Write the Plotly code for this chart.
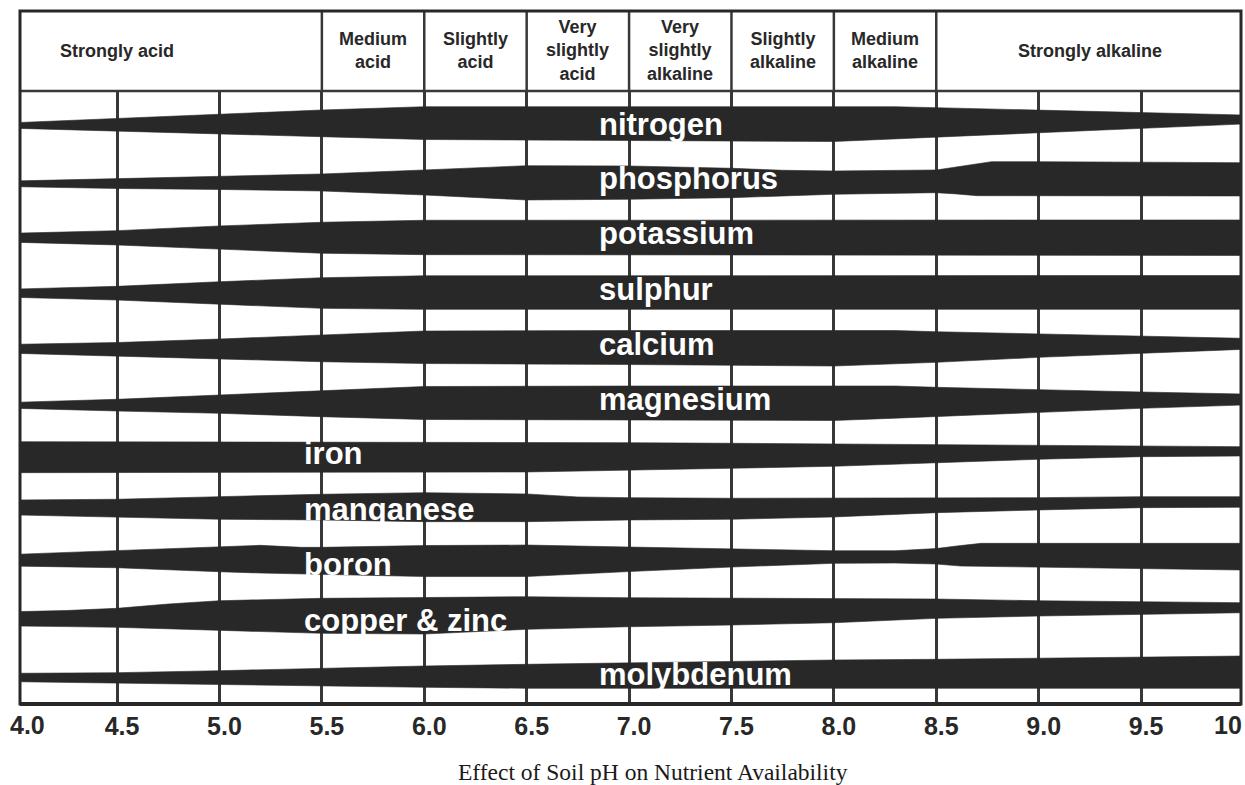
import plotly.graph_objects as go

# ---------------- data ----------------
tick_vals = [4.5, 5.0, 5.5, 6.0, 6.5, 7.0, 7.5, 8.0, 8.5, 9.0, 9.5]
tick_text = ["4.5", "5.0", "5.5", "6.0", "6.5", "7.0", "7.5", "8.0", "8.5", "9.0", "9.5"]
end_tick_text = ["4.0", "10"]

zone_names = ["Strongly acid", "Medium<br>acid", "Slightly<br>acid", "Very<br>slightly<br>acid",
              "Very<br>slightly<br>alkaline", "Slightly<br>alkaline", "Medium<br>alkaline",
              "Strongly alkaline"]
zone_edges = [5.5, 6.0, 6.5, 7.0, 7.5, 8.0, 8.5]
zone_label_ph = [4.5, 5.75, 6.25, 6.75, 7.25, 7.75, 8.25, 9.25]

nutrients = ["nitrogen", "phosphorus", "potassium", "sulphur", "calcium", "magnesium",
             "iron", "manganese", "boron", "copper & zinc", "molybdenum"]

# band edges: offset of upper / lower edge from each nutrient's row line (down = positive)
nitrogen_ph = [4.0, 4.5, 5.0, 5.5, 6.0, 7.0, 8.0, 8.3, 8.5, 9.0, 9.5, 10.0]
nitrogen_upper = [-4.7, -9.1, -13.1, -17.4, -20.7, -20.7, -20.7, -20.7, -19.7, -17.3, -14.8, -12.4]
nitrogen_lower = [0.9, 3.3, 6.6, 9.3, 12.1, 13.1, 14.1, 11.5, 9.7, 5.3, 1.0, -3.4]

phosphorus_ph = [4.0, 4.5, 5.0, 5.5, 6.0, 6.5, 7.0, 7.5, 7.75, 8.0, 8.5, 8.6, 8.7, 8.77, 9.0, 9.5, 10.0]
phosphorus_upper = [-1.0, -3.5, -6.0, -8.0, -12.0, -16.3, -16.0, -13.7, -11.7, -11.0, -12.0, -15.0, -18.5,
                    -20.3, -20.3, -20.0, -19.3]
phosphorus_lower = [4.7, 6.5, 7.5, 9.0, 13.0, 18.0, 17.3, 15.7, 14.0, 12.3, 10.7, 12.0, 13.7, 14.0, 14.0,
                    14.0, 14.0]

potassium_ph = [4.0, 4.5, 5.0, 5.5, 6.0, 10.0]
potassium_upper = [-3.3, -5.9, -10.6, -14.3, -16.3, -16.6]
potassium_lower = [5.7, 8.4, 12.7, 16.7, 18.1, 18.9]

sulphur_ph = [4.0, 4.5, 5.0, 5.5, 6.0, 10.0]
sulphur_upper = [-2.1, -4.8, -9.4, -13.4, -15.4, -15.6]
sulphur_lower = [6.2, 8.9, 13.2, 17.2, 18.2, 18.2]

calcium_ph = [4.0, 4.5, 5.0, 5.5, 6.0, 7.0, 8.0, 8.3, 8.5, 9.0, 9.5, 10.0]
calcium_upper = [-1.4, -3.2, -6.7, -10.7, -14.7, -15.2, -15.2, -15.2, -14.0, -11.7, -9.7, -7.4]
calcium_lower = [7.6, 10.0, 13.3, 16.0, 17.8, 18.8, 20.3, 17.8, 16.6, 11.6, 7.6, 3.6]

magnesium_ph = [4.0, 4.5, 5.0, 5.5, 6.0, 7.0, 8.0, 8.3, 8.5, 9.0, 9.5, 10.0]
magnesium_upper = [2.0, -1.0, -5.3, -9.6, -13.8, -14.3, -14.3, -14.3, -13.0, -10.3, -8.3, -6.3]
magnesium_lower = [8.0, 10.7, 13.0, 16.4, 19.2, 19.7, 20.2, 17.9, 16.3, 12.4, 8.0, 4.7]

iron_ph = [4.0, 6.5, 7.0, 7.5, 8.0, 8.5, 9.0, 9.5, 10.0]
iron_upper = [-13.2, -12.9, -12.2, -11.6, -10.9, -9.9, -9.2, -8.2, -8.2]
iron_lower = [17.8, 17.1, 15.1, 13.4, 11.4, 7.8, 4.4, 1.8, 1.1]

manganese_ph = [4.0, 4.5, 5.0, 5.5, 6.0, 6.5, 6.75, 7.0, 7.5, 8.0, 8.5, 9.0, 9.5, 10.0]
manganese_upper = [-9.5, -10.2, -12.8, -15.2, -16.8, -15.5, -12.5, -11.8, -11.2, -11.2, -11.2, -11.8, -12.8, -12.8]
manganese_lower = [5.5, 7.8, 9.8, 10.5, 12.2, 12.2, 11.5, 10.5, 9.8, 7.5, 3.2, 0.5, -1.8, -2.2]

boron_ph = [4.0, 4.5, 5.0, 5.2, 5.4, 5.5, 6.0, 6.5, 7.0, 7.5, 8.0, 8.3, 8.5, 8.62, 8.72, 9.0, 9.5, 10.0]
boron_upper = [-9.7, -13.3, -17.3, -18.7, -16.7, -16.7, -18.5, -19.0, -17.0, -15.0, -13.3, -13.3, -15.5,
               -18.5, -20.7, -20.7, -20.7, -20.7]
boron_lower = [2.0, 3.7, 7.7, 9.0, 10.0, 10.5, 12.5, 12.5, 7.5, 3.0, -0.7, -1.0, 0.0, 2.0, 3.0, 3.3, 4.7, 6.0]

copper_zinc_ph = [4.0, 4.25, 4.5, 4.75, 5.0, 5.25, 5.5, 6.0, 6.5, 7.0, 7.5, 8.0, 8.5, 9.0, 9.5, 10.0]
copper_zinc_upper = [-6.9, -8.1, -10.3, -14.6, -17.9, -19.4, -20.3, -21.1, -21.9, -20.9, -20.3, -20.3, -19.6,
                     -17.9, -16.9, -15.9]
copper_zinc_lower = [7.4, 8.0, 8.7, 10.0, 11.4, 13.1, 14.7, 15.4, 10.7, 8.1, 6.4, 4.1, -0.3, -2.6, -4.6, -5.9]

molybdenum_ph = [4.0, 4.5, 5.0, 5.5, 6.0, 6.5, 7.0, 7.5, 8.0, 8.5, 9.0, 9.5, 10.0]
molybdenum_upper = [0.1, -0.5, -2.5, -4.9, -7.2, -8.9, -10.5, -11.5, -13.2, -13.9, -14.9, -15.9, -17.2]
molybdenum_lower = [8.5, 9.5, 11.1, 12.8, 14.1, 15.1, 15.1, 15.1, 15.1, 15.1, 15.1, 15.1, 15.1]

# label placement (pH where the label starts, vertical nudge from row line)
label_ph = [6.844, 6.844, 6.844, 6.844, 6.844, 6.844, 5.403, 5.403, 5.403, 5.403, 6.844]
label_dy = [-3.4, -3.3, -2.6, -2.1, -1.7, -1.3, -0.9, 0.5, 0.0, 1.4, 0.8]

caption = "Effect of Soil pH on Nutrient Availability"

# ---------------- style / layout ----------------
W, H = 1245, 785
ML, MR, MT, MB = 20, 4, 91, 81
HEADER_H = 80
ROW_PITCH = 54.58
Y_TOP, Y_BOTTOM = -36.4, 576.6
X_RANGE = [4.026, 9.988]
INK = "#282828"
GRID = "#383838"
plot_w = W - ML - MR
plot_h = H - MT - MB
header_top = 1 + HEADER_H / plot_h

bands = [
    (nitrogen_ph, nitrogen_upper, nitrogen_lower),
    (phosphorus_ph, phosphorus_upper, phosphorus_lower),
    (potassium_ph, potassium_upper, potassium_lower),
    (sulphur_ph, sulphur_upper, sulphur_lower),
    (calcium_ph, calcium_upper, calcium_lower),
    (magnesium_ph, magnesium_upper, magnesium_lower),
    (iron_ph, iron_upper, iron_lower),
    (manganese_ph, manganese_upper, manganese_lower),
    (boron_ph, boron_upper, boron_lower),
    (copper_zinc_ph, copper_zinc_upper, copper_zinc_lower),
    (molybdenum_ph, molybdenum_upper, molybdenum_lower),
]

fig = go.Figure()
for i, (name, (ph, up, lo)) in enumerate(zip(nutrients, bands)):
    base = i * ROW_PITCH
    xs = list(ph) + list(reversed(ph))
    ys = [base + u for u in up] + [base + l for l in reversed(lo)]
    fig.add_trace(go.Scatter(x=xs, y=ys, mode="lines", fill="toself", fillcolor=INK,
                             line=dict(width=0.6, color=INK), hoverinfo="skip",
                             showlegend=False, name=name))

annotations = []
for i, name in enumerate(nutrients):
    annotations.append(dict(x=label_ph[i], y=i * ROW_PITCH + label_dy[i], xref="x", yref="y",
                            text=name, showarrow=False, xanchor="left", yanchor="middle",
                            font=dict(family="Arial", size=31, color="white", weight="bold")))

header_center = 1 + (HEADER_H / 2) / plot_h
for name, xp in zip(zone_names, zone_label_ph):
    annotations.append(dict(x=xp, y=header_center, xref="x", yref="paper", text=name,
                            showarrow=False, xanchor="center", yanchor="middle",
                            font=dict(family="Arial", size=18, color=INK, weight="bold")))

tick_font = dict(family="Arial", size=25, color=INK, weight="bold")
annotations.append(dict(x=0, y=0, xref="paper", yref="paper", text=end_tick_text[0],
                        showarrow=False, xanchor="center", yanchor="top", xshift=7, yshift=-5,
                        font=tick_font))
annotations.append(dict(x=1, y=0, xref="paper", yref="paper", text=end_tick_text[1],
                        showarrow=False, xanchor="center", yanchor="top", xshift=-13, yshift=-5,
                        font=tick_font))
annotations.append(dict(x=(652.7 - ML) / plot_w, y=-(772 - 704) / plot_h, xref="paper",
                        yref="paper", text=caption, showarrow=False, xanchor="center",
                        yanchor="middle",
                        font=dict(family="Liberation Serif, Times New Roman, serif", size=23.5,
                                  color="#1a1a1a")))

shapes = []
for xe in zone_edges:
    shapes.append(dict(type="line", xref="x", yref="paper", x0=xe, x1=xe, y0=1, y1=header_top,
                       line=dict(color=GRID, width=2.5), layer="above"))
shapes.append(dict(type="line", xref="paper", yref="paper", x0=0, x1=1, y0=1, y1=1,
                   line=dict(color=GRID, width=2.7), layer="above"))
shapes.append(dict(type="rect", xref="paper", yref="paper", x0=0, x1=1, y0=0, y1=header_top,
                   line=dict(color=INK, width=3), layer="above"))
shapes.append(dict(type="line", xref="paper", yref="paper", x0=0, x1=1, y0=0, y1=0,
                   line=dict(color=INK, width=4), layer="above"))

fig.update_layout(
    width=W, height=H,
    margin=dict(l=ML, r=MR, t=MT, b=MB),
    paper_bgcolor="white", plot_bgcolor="white",
    showlegend=False,
    annotations=annotations, shapes=shapes,
    xaxis=dict(range=X_RANGE, tickvals=tick_vals, ticktext=tick_text, showgrid=True,
               gridcolor=GRID, gridwidth=2.5, zeroline=False, showline=False,
               ticks="", ticklen=0, tickfont=tick_font, ticklabelstandoff=5,
               ticklabelshift=5, fixedrange=True),
    yaxis=dict(range=[Y_BOTTOM, Y_TOP], showgrid=False, zeroline=False, showticklabels=False,
               showline=False, fixedrange=True),
)

fig.write_html("out.html", config={"displayModeBar": False},
               post_script="document.body.style.margin='0';document.body.style.padding='0';")
